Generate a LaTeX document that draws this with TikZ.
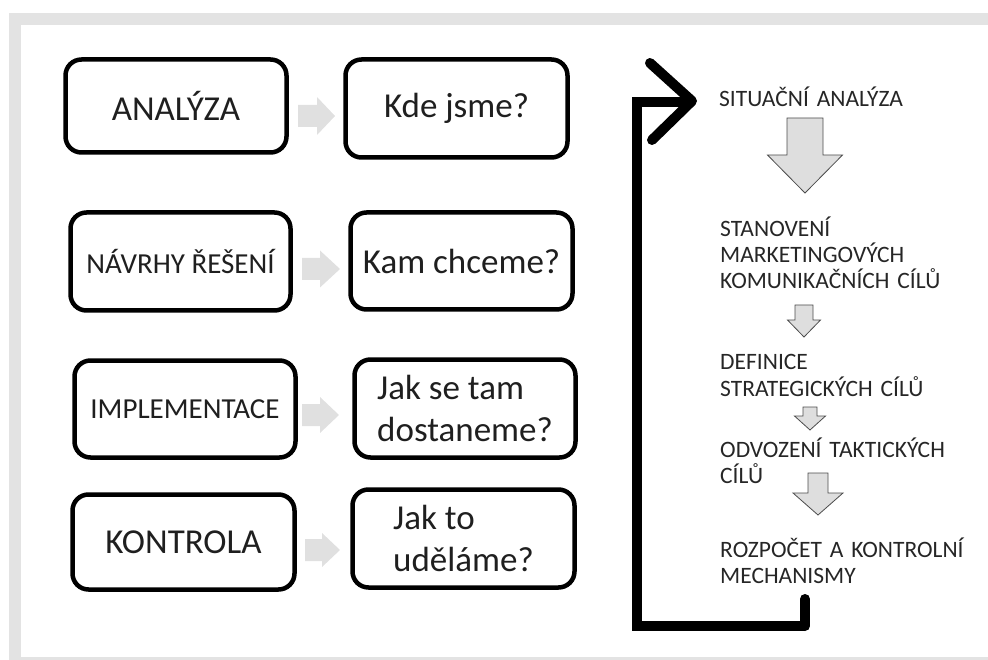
\documentclass[tikz,border=0pt]{standalone}
\usepackage{fontspec}
\setmainfont{Carlito}
\newcommand\dnarr[6]{% cx, top, shaft w, shaft bottom, head w, tip
  \draw[darrow] ({#1-#3/2},#2) -- ({#1+#3/2},#2) -- ({#1+#3/2},#4) -- ({#1+#5/2},#4) -- (#1,#6) -- ({#1-#5/2},#4) -- ({#1-#3/2},#4) -- cycle;}
\newcommand\rtarr[6]{% x0, cy, head start x, shaft half h, head half h, tip x
  \fill[garrow] (#1,{#2-#4}) -- (#3,{#2-#4}) -- (#3,{#2-#5}) -- (#6,#2) -- (#3,{#2+#5}) -- (#3,{#2+#4}) -- (#1,{#2+#4}) -- cycle;}
\begin{document}
\begin{tikzpicture}[x=1pt,y=-1pt,
  box/.style={draw=black, line width=4.5pt, rounded corners=16pt, inner sep=0pt, align=left, text=black!88},
  big/.style={font=\fontsize{35}{42}\selectfont},
  mid/.style={font=\fontsize{29}{35}\selectfont},
  lbl/.style={anchor=base west, inner sep=0pt, text width=270pt, align=left, font=\fontsize{23.5}{26}\selectfont, text=black!85},
  garrow/.style={fill=black!12, draw=none},
  darrow/.style={fill=black!13, draw=black!70, line width=0.8pt},
  loopline/.style={line width=10pt, draw=black}
]
\useasboundingbox (0,0) rectangle (988,660);
% grey frame
\fill[black!11] (9,13) rectangle (988,25);
\fill[black!11] (9,13) rectangle (21,660);
\fill[black!11] (9,657) rectangle (988,660);

% left boxes
\node[box,big,minimum width=221pt,minimum height=93pt] (ana) at (176,106) {ANALÝZA};
\node[box,mid,minimum width=220pt,minimum height=98pt] (nav) at (180.5,261.5) {NÁVRHY ŘEŠENÍ};
\node[box,mid,minimum width=221pt,minimum height=97pt] (imp) at (185,409) {IMPLEMENTACE};
\node[box,big,minimum width=222pt,minimum height=95pt] (kon) at (183.5,542) {KONTROLA};

% right boxes
\node[box,big,minimum width=222pt,minimum height=98pt] (kde) at (456.5,108.5) {Kde jsme?};
\node[box,big,minimum width=222pt,minimum height=97pt] (kam) at (461.5,261) {Kam chceme?};
\node[box,big,minimum width=221pt,minimum height=98pt] (jst) at (465,408.5) {Jak se tam\\dostaneme?};
\node[box,big,minimum width=222pt,minimum height=98pt] (jto) at (463.5,538.5) {Jak to\\uděláme?};

% grey arrows between boxes
\rtarr{298}{116}{317}{11}{19}{335}
\rtarr{302}{269}{320}{11}{18.5}{340}
\rtarr{302}{415}{320}{11}{18}{339}
\rtarr{305}{550}{322}{11}{17}{340}

% right column texts
\node[lbl] (sit) at (719,107) {SITUAČNÍ ANALÝZA};
\node[lbl] (sta) at (720,237) {STANOVENÍ\\MARKETINGOVÝCH\\KOMUNIKAČNÍCH CÍLŮ};
\node[lbl,font=\fontsize{23.5}{28}\selectfont] (def) at (720,369) {DEFINICE\\STRATEGICKÝCH CÍLŮ};
\node[lbl] (odv) at (720,457) {ODVOZENÍ TAKTICKÝCH\\CÍLŮ};
\node[lbl] (roz) at (720,557) {ROZPOČET A KONTROLNÍ\\MECHANISMY};

% down arrows
\dnarr{805}{118}{36}{155}{75}{193}
\dnarr{804}{305}{18}{320}{33}{337}
\dnarr{810}{407}{14}{416}{31}{430}
\dnarr{818}{473}{20}{493}{50}{515}

% feedback loop
\coordinate (loopstart) at (805,599);
\coordinate (loopend) at (690,102);
\draw[loopline, line cap=round] (805,626) -- (loopstart);
\draw[loopline, line join=miter] (805,626) -- (637,626) -- (637,102) -- (loopend);
\draw[loopline, line cap=round, line join=round] (650,63) -- (692,101) -- (652,140);
\end{tikzpicture}
\end{document}
